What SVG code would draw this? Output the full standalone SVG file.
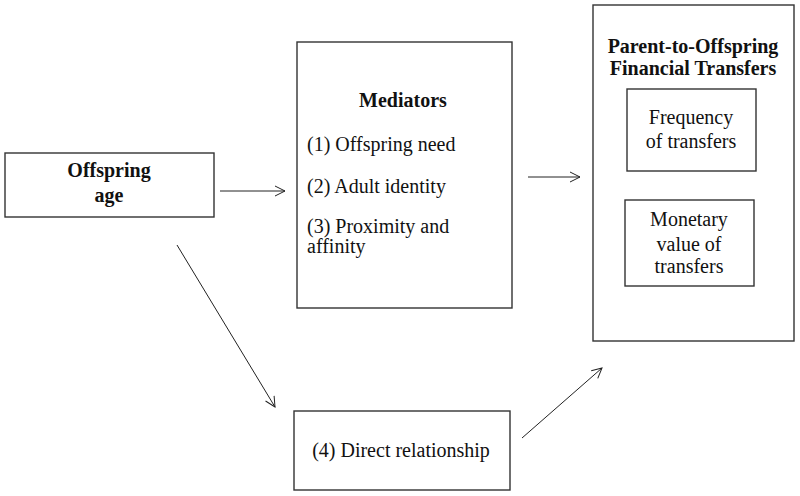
<svg xmlns="http://www.w3.org/2000/svg" width="800" height="496" viewBox="0 0 800 496">
<defs>
<style>
.box{fill:#fff;stroke:#333;stroke-width:1.4}
.t{font-family:"Liberation Serif","Times New Roman",serif;font-size:20px;fill:#111}
.b{font-weight:bold}
.c{text-anchor:middle}
.ln{stroke:#222;stroke-width:1;fill:none}
</style>
<marker id="ah" viewBox="0 0 12 12" refX="11" refY="6" markerWidth="12" markerHeight="12" markerUnits="userSpaceOnUse" orient="auto">
<path d="M1,1 L11,6 L1,11" fill="none" stroke="#222" stroke-width="1"/>
</marker>
</defs>
<rect width="800" height="496" fill="#fff"/>
<g id="offspring-age">
<rect class="box" x="5" y="153" width="209" height="64"/>
<text class="t b c" x="109" y="177">Offspring</text>
<text class="t b c" x="109" y="202">age</text>
</g>
<g id="mediators">
<rect class="box" x="297" y="42" width="215" height="266"/>
<text class="t b c" x="403" y="107">Mediators</text>
<text class="t" x="307" y="151">(1) Offspring need</text>
<text class="t" x="307" y="193">(2) Adult  identity</text>
<text class="t" x="307" y="233">(3) Proximity  and</text>
<text class="t" x="307" y="253">affinity</text>
</g>
<g id="transfers">
<rect class="box" x="593" y="5" width="201" height="336"/>
<text class="t b c" x="693" y="53">Parent-to-Offspring</text>
<text class="t b c" x="693" y="75">Financial Transfers</text>
<g id="frequency">
<rect class="box" x="627" y="89" width="129" height="82"/>
<text class="t c" x="691" y="124">Frequency</text>
<text class="t c" x="691" y="148">of transfers</text>
</g>
<g id="monetary">
<rect class="box" x="625" y="200" width="129" height="86"/>
<text class="t c" x="689" y="226">Monetary</text>
<text class="t c" x="689" y="251">value  of</text>
<text class="t c" x="689" y="273">transfers</text>
</g>
</g>
<g id="direct">
<rect class="box" x="294" y="411" width="216" height="79"/>
<text class="t c" x="401" y="457">(4) Direct  relationship</text>
</g>
<g id="connectors">
<line class="ln" x1="220" y1="191" x2="285" y2="191" marker-end="url(#ah)"/>
<line class="ln" x1="528" y1="177" x2="580" y2="177" marker-end="url(#ah)"/>
<line class="ln" x1="177" y1="245" x2="275" y2="407" marker-end="url(#ah)"/>
<line class="ln" x1="522" y1="438" x2="602" y2="368" marker-end="url(#ah)"/>
</g>
</svg>
